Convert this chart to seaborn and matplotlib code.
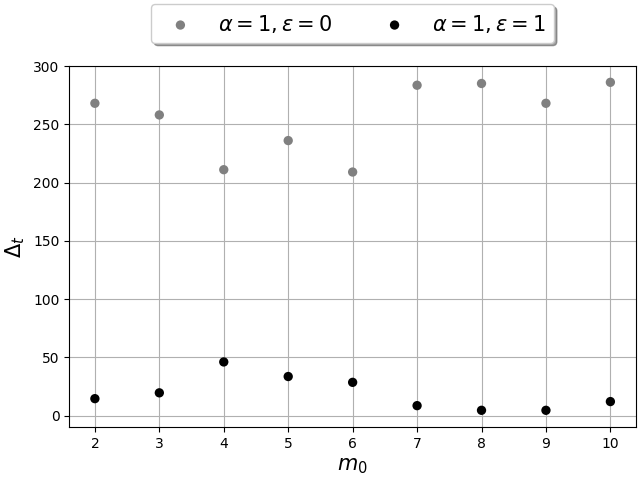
import matplotlib
matplotlib.use("Agg")
import matplotlib.pyplot as plt
import seaborn as sns
import pandas as pd

m0 = [2, 3, 4, 5, 6, 7, 8, 9, 10]
delta_eps0 = [268, 258, 211, 236, 209, 283.5, 285, 268, 286]
delta_eps1 = [14.5, 19.5, 46, 33.5, 28.5, 8.5, 4.5, 4.5, 12]
labels = [r"$\alpha=1,\varepsilon=0$", r"$\alpha=1,\varepsilon=1$"]

sns.set_style("ticks")
plt.rcParams['font.family'] = ['DejaVu Sans']
plt.rcParams['text.color'] = 'black'
plt.rcParams['axes.labelcolor'] = 'black'
plt.rcParams['xtick.color'] = 'black'
plt.rcParams['ytick.color'] = 'black'

fig, ax = plt.subplots(figsize=(6.4, 4.8), dpi=100)
df0 = pd.DataFrame({"m0": m0, "d": delta_eps0})
df1 = pd.DataFrame({"m0": m0, "d": delta_eps1})
sns.scatterplot(data=df0, x="m0", y="d", ax=ax, color="gray", s=45, edgecolor="none", label=labels[0], zorder=3)
sns.scatterplot(data=df1, x="m0", y="d", ax=ax, color="black", s=45, edgecolor="none", label=labels[1], zorder=3)

ax.set_ylim(-10, 300)
ax.set_xticks(m0)
ax.grid(True, color="#b0b0b0", linewidth=0.8)
ax.set_axisbelow(True)
ax.set_xlabel(r"$m_0$", fontsize=15)
ax.set_ylabel(r"$\Delta_t$", fontsize=15)
for s in ax.spines.values():
    s.set_visible(True)
    s.set_color("black")
ax.legend(loc="upper center", bbox_to_anchor=(0.5, 1.2), ncol=2, shadow=True,
          fontsize=15, fancybox=True, columnspacing=2.0)
fig.subplots_adjust(left=0.108, right=0.994, top=0.8625, bottom=0.11)
fig.savefig("out.png", dpi=100)
